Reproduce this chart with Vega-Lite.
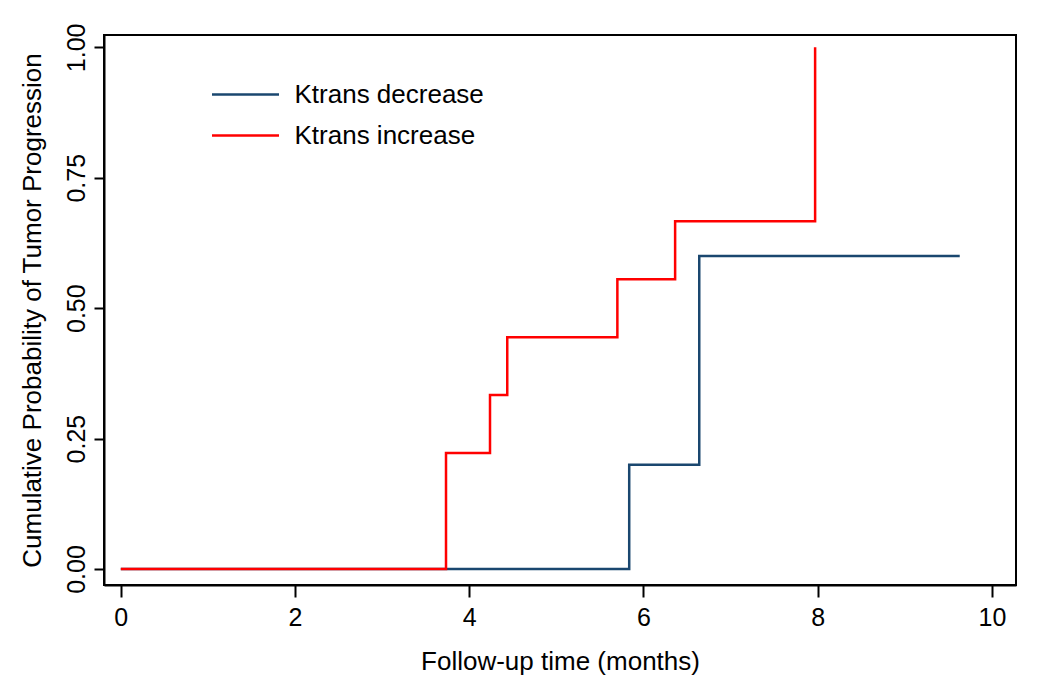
{
  "$schema": "https://vega.github.io/schema/vega-lite/v6.json",
  "width": 912,
  "height": 550,
  "autosize": {"type": "none"},
  "padding": {"left": 104, "top": 35, "right": 24, "bottom": 109},
  "background": "white",
  "config": {
    "font": "Liberation Sans",
    "view": {"stroke": "black", "strokeWidth": 2},
    "axis": {"grid": false, "domainColor": "black", "domainWidth": 2, "tickColor": "black", "tickWidth": 2, "labelColor": "black", "titleColor": "black", "titleFontWeight": "normal"}
  },
  "data": {
    "values": [
      {"time": 0, "prob": 0, "group": "Ktrans decrease"},
      {"time": 5.836, "prob": 0.2, "group": "Ktrans decrease"},
      {"time": 6.64, "prob": 0.6, "group": "Ktrans decrease"},
      {"time": 9.63, "prob": 0.6, "group": "Ktrans decrease"},
      {"time": 0, "prob": 0, "group": "Ktrans increase"},
      {"time": 3.733, "prob": 0.2222, "group": "Ktrans increase"},
      {"time": 4.238, "prob": 0.3333, "group": "Ktrans increase"},
      {"time": 4.436, "prob": 0.4444, "group": "Ktrans increase"},
      {"time": 5.70, "prob": 0.5556, "group": "Ktrans increase"},
      {"time": 6.363, "prob": 0.6667, "group": "Ktrans increase"},
      {"time": 7.97, "prob": 1.0, "group": "Ktrans increase"}
    ]
  },
  "mark": {"type": "line", "interpolate": "step-after", "strokeWidth": 2.5, "clip": true},
  "encoding": {
    "x": {
      "field": "time", "type": "quantitative",
      "scale": {"domain": [-0.193, 10.276], "nice": false, "zero": false},
      "axis": {
        "values": [0, 2, 4, 6, 8, 10], "format": "d",
        "title": "Follow-up time (months)", "titleFontSize": 26,
        "titleY": 84, "titleBaseline": "alphabetic",
        "labelFontSize": 25, "labelPadding": 8, "tickSize": 12, "labelFlush": false
      }
    },
    "y": {
      "field": "prob", "type": "quantitative",
      "scale": {"domain": [-0.0307, 1.0236], "nice": false, "zero": false},
      "axis": {
        "values": [0, 0.25, 0.5, 0.75, 1], "format": ".2f",
        "title": "Cumulative Probability of Tumor Progression", "titleFontSize": 26,
        "titleX": -63.5, "titleBaseline": "alphabetic", "titleAngle": 270,
        "labelFontSize": 25, "labelAngle": 270, "labelAlign": "center", "labelBaseline": "alphabetic",
        "labelPadding": 10, "tickSize": 10, "labelFlush": false
      }
    },
    "color": {
      "field": "group", "type": "nominal",
      "scale": {"domain": ["Ktrans decrease", "Ktrans increase"], "range": ["#1a476f", "#ff0000"]},
      "legend": {
        "title": null, "orient": "none", "legendX": 106.5, "legendY": 39,
        "symbolType": "stroke", "symbolSize": 4489, "symbolStrokeWidth": 2.5,
        "labelFontSize": 26, "labelColor": "black", "labelOffset": 14, "labelLimit": 0,
        "padding": 0, "rowPadding": 0, "clipHeight": 41
      }
    },
    "order": {"field": "time", "type": "quantitative"}
  }
}
